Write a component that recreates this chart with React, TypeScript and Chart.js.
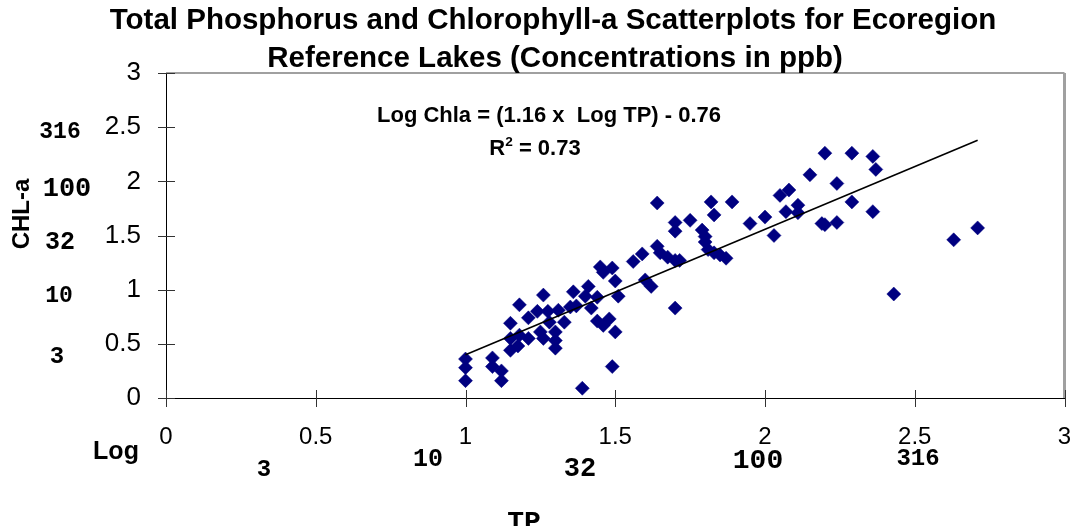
import { useEffect, useRef } from 'react';
import { Chart, registerables } from 'chart.js';

Chart.register(...registerables);

// ---- data (log10 concentrations, ppb) ----
const tpLog = [
  1.0, 1.0, 1.0, 1.09, 1.09, 1.12, 1.12, 1.15, 1.15, 1.15,
  1.175, 1.18, 1.18, 1.21, 1.21, 1.24, 1.25, 1.26, 1.26, 1.275,
  1.28, 1.3, 1.3, 1.3, 1.31, 1.33, 1.35, 1.36, 1.37, 1.39,
  1.4, 1.41, 1.42, 1.44, 1.44, 1.46, 1.48, 1.5, 1.49, 1.45,
  1.49, 1.46, 1.5, 1.51, 1.56, 1.59, 1.6, 1.62, 1.64, 1.64,
  1.65, 1.675, 1.7, 1.715, 1.7, 1.7, 1.7, 1.75, 1.79, 1.8,
  1.8, 1.81, 1.83, 1.85, 1.87, 1.82, 1.83, 1.89, 1.95, 2.0,
  2.03, 2.05, 2.08, 2.07, 2.11, 2.11, 2.15, 2.2, 2.24, 2.29,
  2.36, 2.37, 2.29, 2.36, 2.19, 2.2, 2.24, 2.43, 2.63, 2.71,
];
const chlaLog = [
  0.36, 0.28, 0.16, 0.37, 0.29, 0.25, 0.16, 0.69, 0.55, 0.44,
  0.48, 0.58, 0.86, 0.74, 0.55, 0.8, 0.61, 0.95, 0.55, 0.8,
  0.7, 0.61, 0.53, 0.46, 0.81, 0.7, 0.84, 0.98, 0.85, 0.09,
  0.94, 1.03, 0.83, 0.93, 0.71, 0.67, 0.73, 0.61, 0.29, 1.21,
  1.2, 1.16, 1.08, 0.94, 1.26, 1.33, 1.09, 1.03, 1.8, 1.4,
  1.34, 1.3, 1.27, 1.27, 1.62, 1.54, 0.83, 1.64, 1.55, 1.49,
  1.44, 1.37, 1.34, 1.32, 1.29, 1.81, 1.69, 1.81, 1.61, 1.67,
  1.5, 1.87, 1.92, 1.72, 1.78, 1.71, 2.06, 2.26, 1.98, 2.26,
  2.23, 2.11, 1.81, 1.72, 1.61, 1.6, 1.62, 0.96, 1.46, 1.57,
];
const trendTp = [1.0, 2.71];
const trendChla = [0.4, 2.38];
const axisMin = 0;
const axisMax = 3;
const axisStep = 0.5;

// ---- texts ----
const titleLines = [
  'Total Phosphorus and Chlorophyll-a Scatterplots for Ecoregion',
  'Reference Lakes (Concentrations in ppb)',
];
const equationText = 'Log Chla = (1.16 x  Log TP) - 0.76';
const r2Text = '0.73';
const yTitle = 'CHL-a';
const xTitle = 'TP';
const xLogWord = 'Log';
const chlaPpbLabels = ['316', '100', '32', '10', '3'];
const tpPpbLabels = ['3', '10', '32', '100', '316'];

const SANS = '"Liberation Sans", Arial, sans-serif';
const MONO = '"Liberation Mono", "Courier New", monospace';
const MARKER = '#000080';

function fitFont(ctx: CanvasRenderingContext2D, text: string, width: number, weight: string, family: string) {
  ctx.font = `${weight} 100px ${family}`;
  const w = ctx.measureText(text).width;
  return (100 * width) / w;
}

const decor = {
  id: 'decor',
  afterDraw(chart: any) {
    const ctx: CanvasRenderingContext2D = chart.ctx;
    const { left, right, top, bottom } = chart.chartArea;
    const xs = chart.scales.x;
    const ys = chart.scales.y;
    ctx.save();

    // plot-area frame (grey top / right)
    ctx.strokeStyle = '#a0a0a0';
    ctx.lineWidth = 2;
    ctx.beginPath();
    ctx.moveTo(left, top);
    ctx.lineTo(right, top);
    ctx.stroke();
    ctx.lineWidth = 3;
    ctx.beginPath();
    ctx.moveTo(right, top);
    ctx.lineTo(right, bottom);
    ctx.stroke();

    // cross tick marks
    ctx.strokeStyle = '#333';
    ctx.lineWidth = 1;
    for (let v = axisMin; v <= axisMax + 1e-9; v += axisStep) {
      const px = Math.round(xs.getPixelForValue(v)) + 0.5;
      ctx.beginPath();
      ctx.moveTo(px, bottom - 8);
      ctx.lineTo(px, bottom + 9);
      ctx.stroke();
      const py = Math.round(ys.getPixelForValue(v)) + 0.5;
      ctx.beginPath();
      ctx.moveTo(left - 8, py);
      ctx.lineTo(left + 9, py);
      ctx.stroke();
    }

    ctx.fillStyle = '#000';
    ctx.textBaseline = 'middle';
    ctx.textAlign = 'center';

    // title
    const tSize = fitFont(ctx, titleLines[0], 887, 'bold', SANS);
    ctx.font = `bold ${tSize}px ${SANS}`;
    ctx.fillText(titleLines[0], 553, 21);
    ctx.fillText(titleLines[1], 555, 59);

    // regression annotation
    const eSize = fitFont(ctx, equationText, 344, 'bold', SANS);
    ctx.font = `bold ${eSize}px ${SANS}`;
    ctx.fillText(equationText, 549, 116);
    const rPart = 'R';
    const restPart = ' = ' + r2Text;
    const wR = ctx.measureText(rPart).width;
    const wRest = ctx.measureText(restPart).width;
    ctx.font = `bold ${eSize * 0.62}px ${SANS}`;
    const wSup = ctx.measureText('2').width;
    const total = wR + wSup + wRest;
    const x0 = 535 - total / 2;
    ctx.textAlign = 'left';
    ctx.font = `bold ${eSize}px ${SANS}`;
    ctx.fillText(rPart, x0, 149);
    ctx.font = `bold ${eSize * 0.62}px ${SANS}`;
    ctx.fillText('2', x0 + wR, 142);
    ctx.font = `bold ${eSize}px ${SANS}`;
    ctx.fillText(restPart, x0 + wR + wSup, 149);

    // y title
    ctx.textAlign = 'center';
    ctx.save();
    ctx.translate(22, 214);
    ctx.rotate(-Math.PI / 2);
    ctx.font = `bold 24px ${SANS}`;
    ctx.fillText(yTitle, 0, 0);
    ctx.restore();

    // y secondary (ppb) labels
    const yPpbPos = [
      [60, 132, 23],
      [67, 189, 27],
      [60, 243, 25],
      [59, 296, 23],
      [57, 357, 24],
    ];
    chlaPpbLabels.forEach((t, i) => {
      const [cx, cy, fs] = yPpbPos[i];
      ctx.font = `bold ${fs}px ${MONO}`;
      ctx.fillText(t, cx, cy);
    });

    // x secondary labels
    ctx.font = `bold 25px ${SANS}`;
    ctx.fillText(xLogWord, 116, 452);
    const xPpbPos = [
      [264, 470, 24],
      [428, 460, 25],
      [580, 469, 27],
      [758, 461, 28],
      [918, 459, 24],
    ];
    tpPpbLabels.forEach((t, i) => {
      const [cx, cy, fs] = xPpbPos[i];
      ctx.font = `bold ${fs}px ${MONO}`;
      ctx.fillText(t, cx, cy);
    });
    ctx.font = `bold 28px ${MONO}`;
    ctx.textBaseline = 'top';
    ctx.fillText(xTitle, 524, 509);

    ctx.restore();
  },
};

export default function App() {
  const ref = useRef<HTMLCanvasElement>(null);
  useEffect(() => {
    if (!ref.current) return;
    const chart = new Chart(ref.current, {
      type: 'scatter',
      data: {
        datasets: [
          {
            data: trendTp.map((x, i) => ({ x, y: trendChla[i] })),
            showLine: true,
            borderColor: '#000',
            borderWidth: 1.6,
            pointRadius: 0,
            order: 0,
          },
          {
            data: tpLog.map((x, i) => ({ x, y: chlaLog[i] })),
            pointStyle: 'rectRot',
            pointRadius: 7,
            backgroundColor: MARKER,
            borderColor: MARKER,
            borderWidth: 0.5,
            order: 1,
          },
        ],
      },
      options: {
        responsive: false,
        animation: false,
        layout: { padding: { top: 73, right: 6, left: 0, bottom: 0 } },
        plugins: { legend: { display: false }, tooltip: { enabled: false }, title: { display: false } },
        scales: {
          x: {
            type: 'linear',
            min: axisMin,
            max: axisMax,
            ticks: {
              stepSize: axisStep,
              color: '#000',
              font: { family: SANS, size: 24 },
              padding: 25,
              maxRotation: 0,
              callback: (v: any) => String(Number(v)),
            },
            grid: { display: false, drawTicks: false, tickLength: 0 },
            border: { display: true, color: '#000', width: 1 },
            afterFit: (s: any) => { s.height = 128; s.paddingLeft = 0; s.paddingRight = 0; },
          },
          y: {
            type: 'linear',
            min: axisMin,
            max: axisMax,
            ticks: {
              stepSize: axisStep,
              color: '#000',
              font: { family: SANS, size: 26 },
              padding: 25,
              callback: (v: any) => String(Number(v)),
            },
            grid: { display: false, drawTicks: false, tickLength: 0 },
            border: { display: true, color: '#000', width: 1 },
            afterFit: (s: any) => { s.width = 166; s.paddingTop = 0; s.paddingBottom = 0; },
          },
        },
      },
      plugins: [decor],
    });
    return () => chart.destroy();
  }, []);
  return (
    <div style={{ position: 'absolute', left: 0, top: 0, width: 1072, height: 526, background: '#fff' }}>
      <canvas ref={ref} width={1072} height={526} style={{ display: 'block' }} />
    </div>
  );
}
